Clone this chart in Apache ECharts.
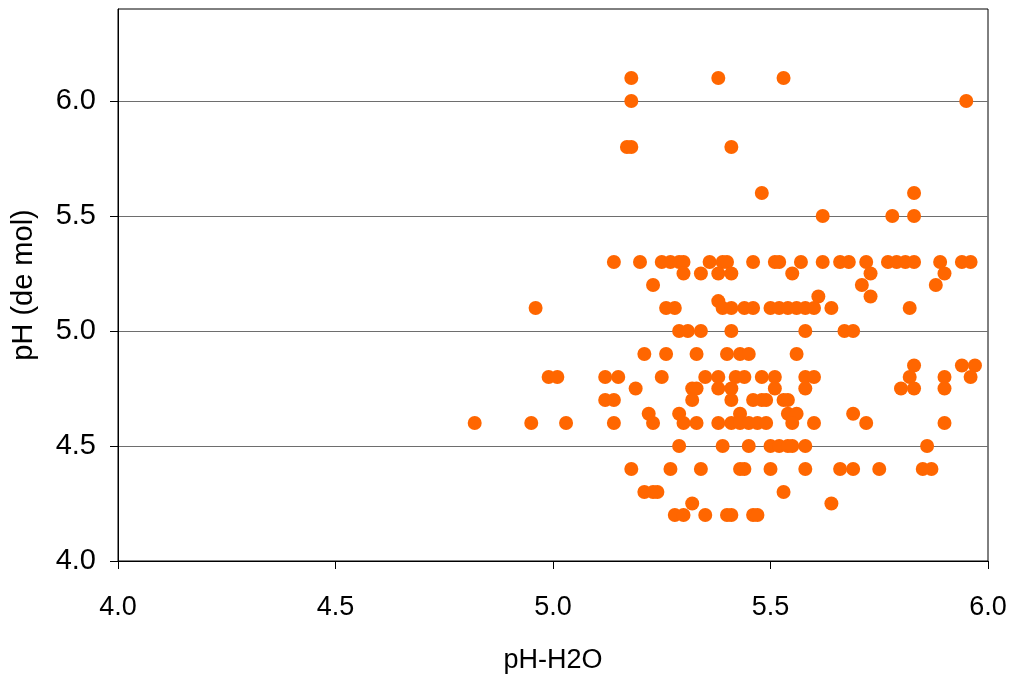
<!DOCTYPE html>
<html>
<head>
<meta charset="utf-8">
<title>pH-H2O vs pH (de mol)</title>
<script src="https://cdn.jsdelivr.net/npm/echarts@6/dist/echarts.min.js"></script>
<style>
  html, body { margin: 0; padding: 0; background: #fff; }
  #chart { width: 1013px; height: 676px; }
</style>
</head>
<body>
<div id="chart"></div>
<script>
// Samples, grouped by their pH (de mol) value; each list holds the pH-H2O readings.
const molLevels = [6.1, 6.0, 5.8, 5.6, 5.5, 5.3, 5.25, 5.2, 5.15, 5.13, 5.1, 5.0, 4.9, 4.85,
                   4.8, 4.75, 4.7, 4.64, 4.6, 4.5, 4.4, 4.3, 4.25, 4.2];
const waterByLevel = [
  [5.18, 5.38, 5.53],
  [5.18, 5.95],
  [5.17, 5.18, 5.41],
  [5.48, 5.83],
  [5.62, 5.78, 5.83],
  [5.14, 5.20, 5.25, 5.27, 5.29, 5.30, 5.36, 5.39, 5.40, 5.46, 5.51, 5.52, 5.57, 5.62,
   5.66, 5.68, 5.72, 5.77, 5.79, 5.81, 5.83, 5.89, 5.94, 5.96],
  [5.30, 5.34, 5.38, 5.41, 5.55, 5.73, 5.90],
  [5.23, 5.71, 5.88],
  [5.61, 5.73],
  [5.38],
  [4.96, 5.26, 5.28, 5.39, 5.41, 5.44, 5.46, 5.50, 5.52, 5.54, 5.56, 5.58, 5.60, 5.64, 5.82],
  [5.29, 5.31, 5.34, 5.41, 5.58, 5.67, 5.69],
  [5.21, 5.26, 5.33, 5.40, 5.43, 5.45, 5.56],
  [5.83, 5.94, 5.97],
  [4.99, 5.01, 5.12, 5.15, 5.25, 5.35, 5.38, 5.42, 5.44, 5.48, 5.51, 5.58, 5.60, 5.82, 5.90, 5.96],
  [5.19, 5.32, 5.33, 5.38, 5.41, 5.51, 5.58, 5.80, 5.83, 5.90],
  [5.12, 5.14, 5.32, 5.41, 5.46, 5.48, 5.49, 5.53, 5.54],
  [5.22, 5.29, 5.43, 5.54, 5.56, 5.69],
  [4.82, 4.95, 5.03, 5.14, 5.23, 5.30, 5.33, 5.38, 5.41, 5.43, 5.45, 5.47, 5.49, 5.55, 5.60, 5.72, 5.90],
  [5.29, 5.39, 5.45, 5.50, 5.52, 5.54, 5.55, 5.58, 5.86],
  [5.18, 5.27, 5.34, 5.43, 5.44, 5.50, 5.58, 5.66, 5.69, 5.75, 5.85, 5.87],
  [5.21, 5.23, 5.24, 5.53],
  [5.32, 5.64],
  [5.28, 5.30, 5.35, 5.40, 5.41, 5.46, 5.47]
];
const tickValues = [4.0, 4.5, 5.0, 5.5, 6.0];
const xAxisTitle = 'pH-H2O';
const yAxisTitle = 'pH (de mol)';

// Flatten into [pH-H2O, pH (de mol)] pairs for the scatter series.
const points = [];
molLevels.forEach((mol, i) => {
  waterByLevel[i].forEach(w => points.push([w, mol]));
});

const font = 'Liberation Sans, Arial, sans-serif';
const chart = echarts.init(document.getElementById('chart'), null, { renderer: 'canvas' });

chart.setOption({
  animation: false,
  backgroundColor: '#ffffff',
  grid: {
    left: 118, right: 25, top: 9, bottom: 115,
    containLabel: false,
    outerBoundsMode: 'none',
    show: true, borderColor: '#000', borderWidth: 1, backgroundColor: 'transparent'
  },
  xAxis: {
    type: 'value',
    min: 4.0, max: 6.0, interval: 0.5,
    name: xAxisTitle,
    nameLocation: 'middle',
    nameGap: 86,
    nameTextStyle: { color: '#000', fontSize: 27, fontFamily: font },
    axisLine: { show: true, lineStyle: { color: '#000', width: 1 } },
    axisTick: { show: true, inside: false, length: 8, lineStyle: { color: '#000' } },
    axisLabel: {
      color: '#000', fontSize: 27, fontFamily: font, margin: 33,
      formatter: v => v.toFixed(1)
    },
    splitLine: { show: false }
  },
  yAxis: {
    type: 'value',
    min: 4.0, max: 6.4, interval: 0.5,
    name: yAxisTitle,
    nameLocation: 'middle',
    nameGap: 80,
    nameRotate: 90,
    nameTextStyle: { color: '#000', fontSize: 29, fontFamily: font },
    axisLine: { show: true, lineStyle: { color: '#000', width: 1 } },
    axisTick: { show: true, length: 8, lineStyle: { color: '#000' }, customValues: tickValues },
    axisLabel: {
      color: '#000', fontSize: 29, fontFamily: font, margin: 22,
      customValues: tickValues,
      formatter: v => v.toFixed(1)
    },
    splitLine: { show: true, lineStyle: { color: '#6e6e6e', width: 1 } }
  },
  series: [{
    type: 'scatter',
    data: points,
    symbol: 'circle',
    symbolSize: 14,
    itemStyle: { color: '#FF6600', opacity: 1 },
    emphasis: { disabled: true }
  }]
});
</script>
</body>
</html>
